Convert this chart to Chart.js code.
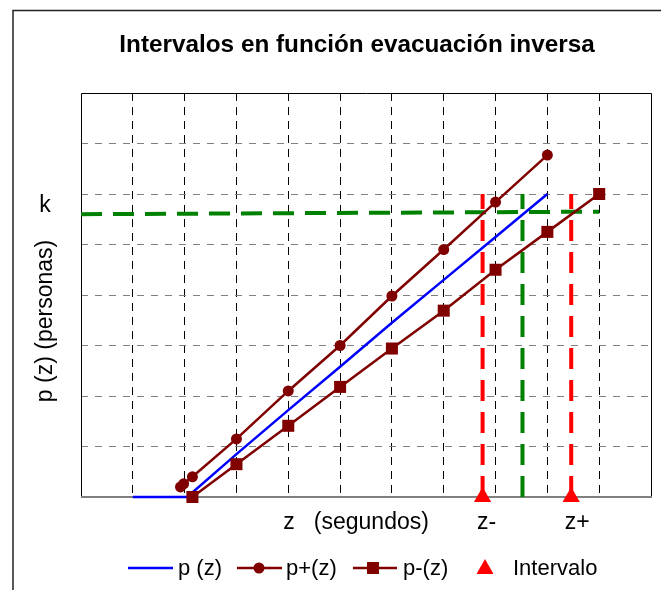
<!DOCTYPE html>
<html>
<head>
<meta charset="utf-8">
<script src="https://cdn.jsdelivr.net/npm/chart.js@4/dist/chart.umd.min.js"></script>
<style>
  body { margin: 0; background: #ffffff; }
  #wrap { width: 661px; height: 590px; }
</style>
</head>
<body>
<div id="wrap"><canvas id="evacChart" width="661" height="590"></canvas></div>
<script>
// Intervalos en función evacuación inversa

// p (z) - blue curve
const pzX = [1, 2.05, 3, 4, 5, 6, 7, 8, 9];
const pzY = [0, 0, 0.85, 1.72, 2.58, 3.45, 4.3, 5.15, 6];

// p+(z) - circles
const plusX = [1.92, 1.98, 2.15, 3, 4, 5, 6, 7, 8, 9];
const plusY = [0.2, 0.26, 0.4, 1.15, 2.1, 3.0, 3.98, 4.9, 5.84, 6.77];

// p-(z) - squares
const minusX = [2.15, 3, 4, 5, 6, 7, 8, 9, 10];
const minusY = [0, 0.65, 1.41, 2.18, 2.94, 3.69, 4.5, 5.25, 6.0];

// level k and interval bounds
const kX = [0, 10];
const kY = [5.6, 5.65];
const zCenter = 8.52;
const zLow = 7.75;
const zHigh = 9.46;
const dropTop = 6;

const xMax = 11;
const yMax = 8;

const toPts = (xs, ys) => xs.map((x, i) => ({ x: x, y: ys[i] }));

const DARK_RED = '#800000';
const FONT = '"Liberation Sans", Arial, sans-serif';

// --- Decorations: frame, titles, labels, legend ---

const decor = {
    id: 'decor',
    beforeDraw(chart) {
        const ctx = chart.ctx;
        ctx.save();
        ctx.fillStyle = '#ffffff';
        ctx.fillRect(0, 0, chart.width, chart.height);
        ctx.strokeStyle = '#222222';
        ctx.lineWidth = 1.5;
        ctx.strokeRect(13, 10.5, 700, 700);
        ctx.restore();
    },
    beforeDatasetsDraw(chart) {
        const ctx = chart.ctx;
        const a = chart.chartArea;
        ctx.save();
        ctx.strokeStyle = '#000000';
        ctx.lineWidth = 1;
        ctx.beginPath();
        ctx.moveTo(Math.round(a.left) + 0.5, Math.round(a.bottom));
        ctx.lineTo(Math.round(a.left) + 0.5, Math.round(a.top) + 0.5);
        ctx.lineTo(Math.round(a.right) + 0.5, Math.round(a.top) + 0.5);
        ctx.lineTo(Math.round(a.right) + 0.5, Math.round(a.bottom));
        ctx.stroke();
        ctx.strokeStyle = '#808080';
        ctx.lineWidth = 2;
        ctx.beginPath();
        ctx.moveTo(a.left, Math.round(a.bottom));
        ctx.lineTo(a.right + 1, Math.round(a.bottom));
        ctx.stroke();
        ctx.restore();
    },
    afterDraw(chart) {
        const ctx = chart.ctx;
        const xs = chart.scales.x;
        ctx.save();
        ctx.fillStyle = '#000000';
        ctx.textBaseline = 'middle';
        ctx.textAlign = 'center';

        ctx.font = 'bold 24.3px ' + FONT;
        ctx.fillText('Intervalos en función evacuación inversa', 357, 45);

        ctx.font = '23px ' + FONT;
        ctx.fillText('k', 45, 206);
        ctx.fillText('z   (segundos)', 356, 523);
        ctx.fillText('z-', xs.getPixelForValue(zLow) + 4, 523);
        ctx.fillText('z+', xs.getPixelForValue(zHigh) + 6, 523);

        ctx.save();
        ctx.translate(46, 321);
        ctx.rotate(-Math.PI / 2);
        ctx.fillText('p (z) (personas)', 0, 0);
        ctx.restore();

        // legend
        const ly = 568;
        ctx.font = '22px ' + FONT;
        ctx.lineWidth = 2.5;
        ctx.textAlign = 'left';

        ctx.strokeStyle = '#0000ff';
        ctx.beginPath(); ctx.moveTo(128, ly); ctx.lineTo(173, ly); ctx.stroke();
        ctx.fillText('p (z)', 178, ly + 1);

        ctx.strokeStyle = DARK_RED;
        ctx.fillStyle = DARK_RED;
        ctx.beginPath(); ctx.moveTo(237, ly); ctx.lineTo(282, ly); ctx.stroke();
        ctx.beginPath(); ctx.arc(259, ly, 5.5, 0, Math.PI * 2); ctx.fill();
        ctx.fillStyle = '#000000';
        ctx.fillText('p+(z)', 286, ly + 1);

        ctx.strokeStyle = DARK_RED;
        ctx.fillStyle = DARK_RED;
        ctx.beginPath(); ctx.moveTo(353, ly); ctx.lineTo(397, ly); ctx.stroke();
        ctx.fillRect(367, ly - 6, 12, 12);
        ctx.fillStyle = '#000000';
        ctx.fillText('p-(z)', 403, ly + 1);

        ctx.fillStyle = '#ff0000';
        ctx.beginPath();
        ctx.moveTo(485, ly - 9);
        ctx.lineTo(493.5, ly + 6);
        ctx.lineTo(476.5, ly + 6);
        ctx.closePath();
        ctx.fill();
        ctx.fillStyle = '#000000';
        ctx.fillText('Intervalo', 513, ly + 1);

        ctx.restore();
    }
};

// --- Chart ---

const dashedLine = (label, pts, color, order) => ({
    label: label,
    data: pts,
    borderColor: color,
    borderWidth: 4,
    borderDash: [21, 11],
    pointRadius: 0,
    fill: false,
    clip: false,
    order: order
});

const evacChart = new Chart(document.getElementById('evacChart'), {
    type: 'line',
    data: {
        datasets: [
            {
                label: 'p+(z)',
                data: toPts(plusX, plusY),
                borderColor: DARK_RED,
                backgroundColor: DARK_RED,
                borderWidth: 2.5,
                pointStyle: 'circle',
                pointRadius: 5.5,
                pointBorderWidth: 0,
                clip: false,
                order: 0
            },
            {
                label: 'p-(z)',
                data: toPts(minusX, minusY),
                borderColor: DARK_RED,
                backgroundColor: DARK_RED,
                borderWidth: 2.5,
                pointStyle: 'rect',
                pointRadius: 8.5,
                pointBorderWidth: 0,
                clip: false,
                order: 0
            },
            {
                label: 'Intervalo',
                data: toPts([zLow, zHigh], [0, 0]),
                showLine: false,
                pointStyle: 'triangle',
                pointRadius: 10,
                pointBorderWidth: 0,
                backgroundColor: '#ff0000',
                borderColor: '#ff0000',
                clip: false,
                order: 0
            },
            {
                label: 'p (z)',
                data: toPts(pzX, pzY),
                borderColor: '#0000ff',
                borderWidth: 2.5,
                pointRadius: 0,
                clip: false,
                order: 1
            },
            dashedLine('z-', toPts([zLow, zLow], [0, dropTop]), '#ff0000', 2),
            dashedLine('z+', toPts([zHigh, zHigh], [0, dropTop]), '#ff0000', 2),
            dashedLine('z', toPts([zCenter, zCenter], [0, dropTop]), '#008000', 3),
            dashedLine('k', toPts(kX, kY), '#008000', 3)
        ]
    },
    options: {
        responsive: false,
        animation: false,
        events: [],
        layout: { padding: { left: 81, top: 93, right: 4, bottom: 93 } },
        plugins: {
            legend: { display: false },
            tooltip: { enabled: false },
            title: { display: false }
        },
        scales: {
            x: {
                type: 'linear',
                min: 0,
                max: xMax,
                ticks: { display: false, stepSize: 1 },
                grid: {
                    drawTicks: false,
                    lineWidth: 1,
                    color: (c) => (c.tick && (c.tick.value === 0 || c.tick.value === xMax)) ? 'rgba(0,0,0,0)' : '#000000'
                },
                border: { display: false, dash: [8, 6] }
            },
            y: {
                type: 'linear',
                min: 0,
                max: yMax,
                ticks: { display: false, stepSize: 1 },
                grid: {
                    drawTicks: false,
                    lineWidth: 1,
                    color: (c) => (c.tick && (c.tick.value === 0 || c.tick.value === yMax)) ? 'rgba(0,0,0,0)' : '#808080'
                },
                border: { display: false, dash: [7, 7] }
            }
        }
    },
    plugins: [decor]
});
</script>
</body>
</html>
